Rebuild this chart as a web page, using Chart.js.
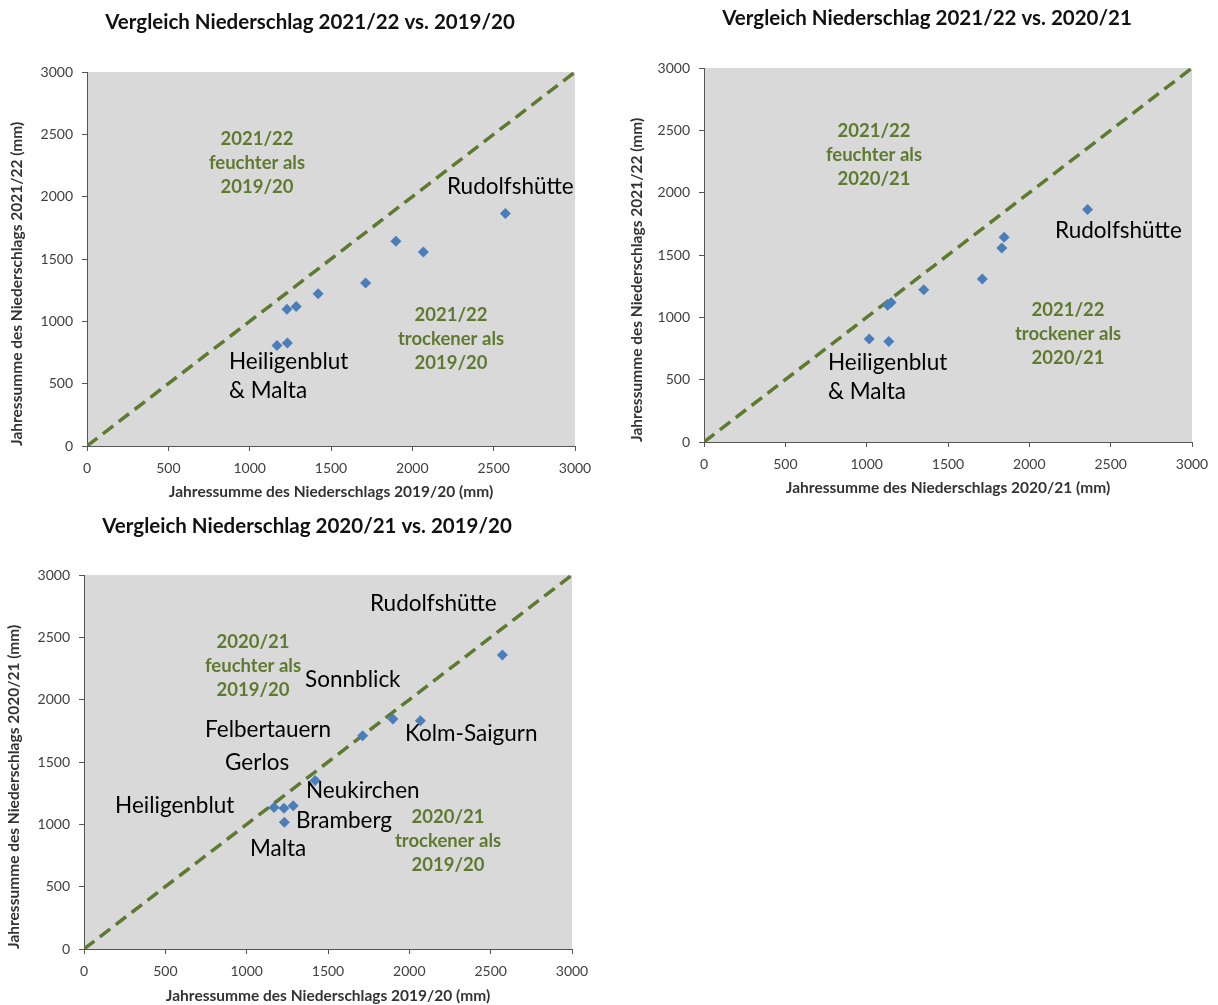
<!DOCTYPE html>
<html>
<head>
<meta charset="utf-8">
<script src="https://cdn.jsdelivr.net/npm/chart.js@4/dist/chart.umd.min.js"></script>
<style>
  html, body { margin: 0; padding: 0; background: #fff; overflow: hidden; }
  .box { position: absolute; }
</style>
</head>
<body>
<div class="box" style="left:0;top:0;width:620px;height:505px"><canvas id="c1"></canvas></div>
<div class="box" style="left:620px;top:0;width:614px;height:505px"><canvas id="c2"></canvas></div>
<div class="box" style="left:0;top:505px;width:614px;height:500px"><canvas id="c3"></canvas></div>
<script>
// stations and yearly precipitation sums (mm)
const stations = ["Rudolfshütte", "Kolm-Saigurn", "Sonnblick", "Felbertauern", "Neukirchen", "Bramberg", "Gerlos", "Heiligenblut", "Malta"];
const precip1920 = [2572, 2068, 1899, 1713, 1421, 1286, 1229, 1168, 1232];
const precip2021 = [2358, 1831, 1845, 1711, 1351, 1150, 1129, 1136, 1016];
const precip2122 = [1865, 1557, 1643, 1307, 1221, 1118, 1097, 806, 826];
const diagonal = [0, 3000];

const FONT = "Lato, 'Open Sans', sans-serif";
const GREEN = "#5e7a30";
const BLUE = "#4a7ebb";

// gray plot area
const plotBg = {
  id: "plotBg",
  beforeDraw(chart) {
    const a = chart.chartArea, ctx = chart.ctx;
    ctx.save();
    ctx.fillStyle = "#d9d9d9";
    ctx.fillRect(a.left, a.top, a.right - a.left, a.bottom - a.top);
    ctx.restore();
  }
};

// text notes placed in data units
const notes = {
  id: "notes",
  afterDraw(chart, args, opts) {
    const ctx = chart.ctx, sx = chart.scales.x, sy = chart.scales.y;
    ctx.save();
    ctx.textBaseline = "middle";
    (opts.items || []).forEach(n => {
      const px = sx.getPixelForValue(n.x), py = sy.getPixelForValue(n.y);
      ctx.font = n.font;
      ctx.fillStyle = n.color;
      ctx.textAlign = n.align;
      n.lines.forEach((t, i) => ctx.fillText(t, px, py + (i - (n.lines.length - 1) / 2) * n.gap));
    });
    ctx.restore();
  }
};

function wet(x, y, a, b) { return { x: x, y: y, lines: [a, "feuchter als", b], font: "bold 18.5px " + FONT, color: GREEN, align: "center", gap: 24 }; }
function dry(x, y, a, b) { return { x: x, y: y, lines: [a, "trockener als", b], font: "bold 18.5px " + FONT, color: GREEN, align: "center", gap: 24 }; }
function lbl(x, y, lines) { return { x: x, y: y, lines: lines, font: "22.5px " + FONT, color: "#000", align: "left", gap: 29 }; }

function makeChart(id, xs, ys, o) {
  const pts = stations.map((s, i) => ({ x: xs[i], y: ys[i] }));
  const axisBase = {
    type: "linear", min: 0, max: 3000,
    border: { display: true, color: "#555", width: 1 },
    grid: { display: true, drawOnChartArea: false, drawTicks: true, tickLength: 5, color: "#555" },
    ticks: { stepSize: 500, padding: 9, color: "#404040", font: { family: FONT, size: 14 },
      format: { useGrouping: false } }
  };
  const titleFont = { family: FONT, size: 15.5, weight: "bold" };
  new Chart(document.getElementById(id), {
    type: "scatter",
    data: {
      datasets: [
        { label: "Stationen", data: pts, pointStyle: "rectRot", pointRadius: 5.5, pointHoverRadius: 5.5,
          backgroundColor: BLUE, borderColor: BLUE, borderWidth: 0, order: 0 },
        { type: "line", label: "1:1", data: diagonal.map(v => ({ x: v, y: v })), borderColor: GREEN,
          borderWidth: 3.5, borderDash: [13, 7], pointRadius: 0, fill: false, order: 1 }
      ]
    },
    options: {
      responsive: true, maintainAspectRatio: false, animation: false,
      layout: { padding: { left: 0, right: 0, top: 0, bottom: o.padB } },
      plugins: {
        legend: { display: false }, tooltip: { enabled: false },
        title: { display: true, text: o.title, color: "#111", font: { family: FONT, size: 20.5, weight: "bold" },
          padding: { top: o.titleTop, bottom: o.titleBottom } },
        notes: { items: o.notes }
      },
      scales: {
        x: Object.assign({}, axisBase, {
          title: { display: true, text: o.xTitle, color: "#333", font: titleFont, padding: 0 },
          afterFit(s) { s.height = o.xHeight; }
        }),
        y: Object.assign({}, axisBase, {
          title: { display: true, text: o.yTitle, align: "start", color: "#333", font: titleFont, padding: { top: o.yTitlePad, bottom: 0 } },
          afterFit(s) { s.width = o.yWidth; }
        }),
        // empty spacer on the right so the title stays centred on the whole panel
        spacer: { type: "linear", position: "right", display: true, grid: { display: false },
          border: { display: false }, ticks: { display: false }, afterFit(s) { s.width = o.rightGap; } }
      }
    },
    plugins: [plotBg, notes]
  });
}

makeChart("c1", precip1920, precip2122, {
  title: "Vergleich Niederschlag 2021/22 vs. 2019/20",
  xTitle: "Jahressumme des Niederschlags 2019/20 (mm)",
  yTitle: "Jahressumme des Niederschlags 2021/22 (mm)",
  rightGap: 45, padB: 4, titleTop: 10, titleBottom: 37.4, xHeight: 55, yWidth: 87, yTitlePad: 8,
  notes: [
    wet(1045, 2270, "2021/22", "2019/20"),
    dry(2238, 858, "2021/22", "2019/20"),
    lbl(2213, 2077, ["Rudolfshütte"]),
    lbl(873, 558, ["Heiligenblut", "& Malta"])
  ]
});

makeChart("c2", precip2021, precip2122, {
  title: "Vergleich Niederschlag 2021/22 vs. 2020/21",
  xTitle: "Jahressumme des Niederschlags 2020/21 (mm)",
  yTitle: "Jahressumme des Niederschlags 2021/22 (mm)",
  rightGap: 42, padB: 8, titleTop: 6, titleBottom: 37.4, xHeight: 55, yWidth: 84, yTitlePad: 8,
  notes: [
    wet(1045, 2302, "2021/22", "2020/21"),
    dry(2238, 866, "2021/22", "2020/21"),
    lbl(2158, 1692, ["Rudolfshütte"]),
    lbl(762, 518, ["Heiligenblut", "& Malta"])
  ]
});

makeChart("c3", precip1920, precip2021, {
  title: "Vergleich Niederschlag 2020/21 vs. 2019/20",
  xTitle: "Jahressumme des Niederschlags 2019/20 (mm)",
  yTitle: "Jahressumme des Niederschlags 2020/21 (mm)",
  rightGap: 42, padB: 0, titleTop: 9, titleBottom: 36.4, xHeight: 56, yWidth: 84, yTitlePad: 5,
  notes: [
    wet(1039, 2270, "2020/21", "2019/20"),
    dry(2238, 866, "2020/21", "2019/20"),
    lbl(1758, 2767, ["Rudolfshütte"]),
    lbl(1359, 2158, ["Sonnblick"]),
    lbl(744, 1757, ["Felbertauern"]),
    lbl(1973, 1725, ["Kolm-Saigurn"]),
    lbl(867, 1492, ["Gerlos"]),
    lbl(1365, 1267, ["Neukirchen"]),
    lbl(191, 1147, ["Heiligenblut"]),
    lbl(1303, 1027, ["Bramberg"]),
    lbl(1020, 802, ["Malta"])
  ]
});
</script>
</body>
</html>
